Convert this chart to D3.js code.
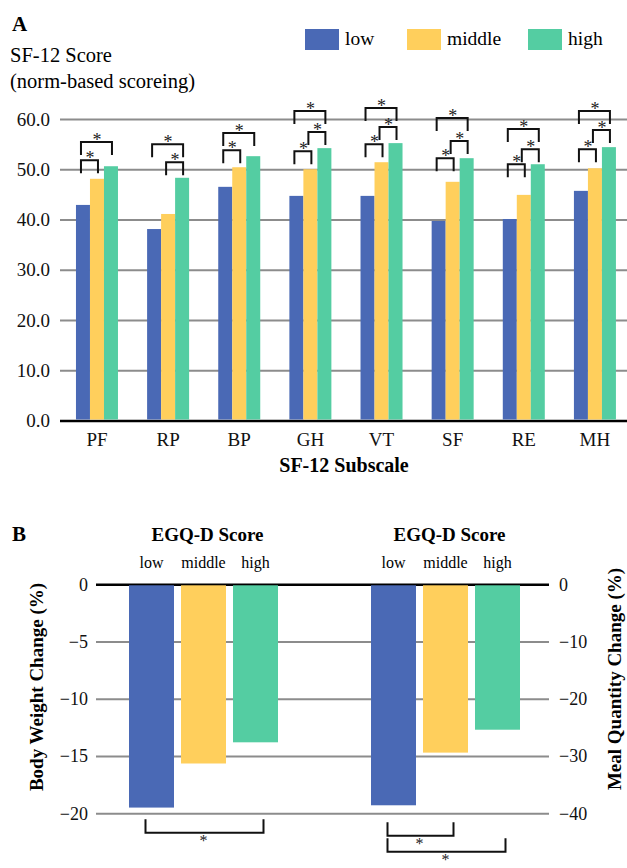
<!DOCTYPE html>
<html>
<head>
<meta charset="utf-8">
<script src="https://cdn.jsdelivr.net/npm/d3@7"></script>
<style>
  body { margin: 0; background: #fff; }
  svg { display: block; font-family: "Liberation Serif", "Times New Roman", serif; }
</style>
</head>
<body>
<div id="container"></div>
<script>
//******************** DATA ********************//
const series = ["low", "middle", "high"];
const colors = ["#4a69b5", "#ffcf5c", "#54cda2"];

// panel A: SF-12 subscales
const subscales = ["PF", "RP", "BP", "GH", "VT", "SF", "RE", "MH"];
const lowScores = [42.9, 38.1, 46.5, 44.7, 44.7, 39.7, 40.1, 45.7];
const middleScores = [48.1, 41.1, 50.4, 50.0, 51.4, 47.5, 44.9, 50.2];
const highScores = [50.6, 48.3, 52.6, 54.2, 55.2, 52.2, 51.0, 54.4];
const scoreTicks = [0, 10, 20, 30, 40, 50, 60];

// significance brackets: [subscale, from, to, bracket height (score units)]
const bracketsA = [
  ["PF", "low", "middle", 51.8], ["PF", "low", "high", 55.4],
  ["RP", "middle", "high", 51.4], ["RP", "low", "high", 55.0],
  ["BP", "low", "middle", 53.8], ["BP", "low", "high", 57.2],
  ["GH", "low", "middle", 53.6], ["GH", "middle", "high", 57.4], ["GH", "low", "high", 61.6],
  ["VT", "low", "middle", 55.0], ["VT", "middle", "high", 58.4], ["VT", "low", "high", 62.2],
  ["SF", "low", "middle", 52.2], ["SF", "middle", "high", 55.6], ["SF", "low", "high", 60.2],
  ["RE", "low", "middle", 51.0], ["RE", "middle", "high", 54.0], ["RE", "low", "high", 58.0],
  ["MH", "low", "middle", 54.0], ["MH", "middle", "high", 57.8], ["MH", "low", "high", 61.6]
];

// panel B: change by EGQ-D score
const outcomes = ["weight", "meal"];
const weightChange = [-19.5, -15.65, -13.8];   // left axis
const mealChange = [-38.6, -29.4, -25.4];      // right axis
const weightTicks = [0, -5, -10, -15, -20];
const mealTicks = [0, -10, -20, -30, -40];

// [outcome, from, to, bracket level (that outcome's axis units)]
const bracketsB = [
  ["weight", "low", "high", -21.7],
  ["meal", "low", "middle", -43.9],
  ["meal", "low", "high", -46.7]
];

//******************** SVG ********************//
const width = 627;
const height = 868;

const svg = d3.select("div#container")
  .append("svg")
  .attr("width", width)
  .attr("height", height);

//******************** PANEL A ********************//
const xA = d3.scaleBand().domain(subscales).range([61.4, 630.5]);
const xSubA = d3.scaleBand().domain(series).range([-21, 21]);
const yA = d3.scaleLinear().domain([0, 60]).range([420.5, 119]);
const centerA = (cat, s) => xA(cat) + xA.bandwidth() / 2 + xSubA(s) + xSubA.bandwidth() / 2;

svg.append("text").attr("x", 12).attr("y", 31)
  .attr("font-size", 21).attr("font-weight", "bold").text("A");
svg.append("text").attr("x", 10).attr("y", 62)
  .attr("font-size", 20.5).text("SF-12 Score");
svg.append("text").attr("x", 10).attr("y", 88)
  .attr("font-size", 20.5).text("(norm-based scoreing)");

//---------- LEGEND ----------//
const legendX = [305, 407, 528];
const legend = svg.append("g").selectAll("g")
  .data(series).join("g")
  .attr("transform", (d, i) => `translate(${legendX[i]},29)`);
legend.append("rect")
  .attr("width", 34).attr("height", 21)
  .attr("fill", (d, i) => colors[i]);
legend.append("text")
  .attr("x", 40).attr("y", 16)
  .attr("font-size", 19.5).text(d => d);

//---------- GRID + AXIS ----------//
const gridA = d3.axisLeft(yA).tickValues(scoreTicks)
  .tickSize(-(627 - 60)).tickFormat(d3.format(".1f")).tickPadding(10);
svg.append("g")
  .attr("transform", "translate(60,0)")
  .call(gridA)
  .call(g => g.select(".domain").remove())
  .call(g => g.selectAll(".tick line")
    .attr("stroke", d => d === 0 ? "#000" : "#8c8c8c")
    .attr("stroke-width", d => d === 0 ? 2.5 : 2))
  .call(g => g.selectAll(".tick text")
    .attr("font-size", 19).attr("font-family", "Liberation Serif").attr("fill", "#111"));

svg.append("g")
  .attr("transform", "translate(0,420.5)")
  .call(d3.axisBottom(xA).tickSize(0).tickPadding(12))
  .call(g => g.select(".domain").remove())
  .call(g => g.selectAll(".tick text")
    .attr("font-size", 19).attr("font-family", "Liberation Serif").attr("fill", "#111"));

svg.append("text").attr("x", 344).attr("y", 472)
  .attr("text-anchor", "middle").attr("font-size", 20).attr("font-weight", "bold")
  .text("SF-12 Subscale");

//---------- BARS ----------//
const scoreRows = subscales.map((c, i) => ({
  cat: c, values: [lowScores[i], middleScores[i], highScores[i]]
}));
svg.append("g").selectAll("g")
  .data(scoreRows).join("g")
  .attr("transform", d => `translate(${xA(d.cat) + xA.bandwidth() / 2},0)`)
  .selectAll("rect")
  .data(d => d.values.map((v, i) => ({ s: series[i], v: v, i: i })))
  .join("rect")
  .attr("x", d => xSubA(d.s))
  .attr("width", xSubA.bandwidth())
  .attr("y", d => yA(d.v))
  .attr("height", d => yA(0) - yA(d.v) - 1)
  .attr("fill", d => colors[d.i]);

//---------- BRACKETS ----------//
const legA = 13;
const brA = svg.append("g").selectAll("g").data(bracketsA).join("g");
brA.append("path")
  .attr("fill", "none").attr("stroke", "#111").attr("stroke-width", 2)
  .attr("d", d => {
    const x1 = centerA(d[0], d[1]) - 2, x2 = centerA(d[0], d[2]) + 1, y = yA(d[3]);
    return `M${x1},${y + legA}V${y}H${x2}V${y + legA}`;
  });
brA.append("text")
  .attr("x", d => (centerA(d[0], d[1]) + centerA(d[0], d[2])) / 2)
  .attr("y", d => yA(d[3]) + 4)
  .attr("text-anchor", "middle").attr("font-size", 18).attr("fill", "#222")
  .text("*");

//******************** PANEL B ********************//
const xB = d3.scaleBand().domain(outcomes).range([82.5, 566.5]);
const xSubB = d3.scaleBand().domain(series).range([-74.5, 74.5]).paddingInner(7 / 52);
const yL = d3.scaleLinear().domain([-20, 0]).range([813.3, 584.3]);
const yR = d3.scaleLinear().domain([-40, 0]).range([813.3, 584.3]);
const yOf = o => o === "weight" ? yL : yR;
const centerB = (o, s) => xB(o) + xB.bandwidth() / 2 + xSubB(s) + xSubB.bandwidth() / 2;

svg.append("text").attr("x", 12).attr("y", 541)
  .attr("font-size", 21).attr("font-weight", "bold").text("B");

//---------- GRID + AXES ----------//
const minus = d => d < 0 ? "\u2212" + Math.abs(d) : d;
svg.append("g")
  .attr("transform", "translate(96,0)")
  .call(d3.axisLeft(yL).tickValues(weightTicks).tickSize(-(549 - 96)).tickPadding(8)
    .tickFormat(minus))
  .call(g => g.select(".domain").remove())
  .call(g => g.selectAll(".tick line")
    .attr("stroke", d => d === 0 ? "#000" : "#8c8c8c")
    .attr("stroke-width", d => d === 0 ? 2.5 : 2))
  .call(g => g.selectAll(".tick text")
    .attr("font-size", 18).attr("font-family", "Liberation Serif").attr("fill", "#111"));

svg.append("g")
  .attr("transform", "translate(549,0)")
  .call(d3.axisRight(yR).tickValues(mealTicks).tickSize(0).tickPadding(10)
    .tickFormat(minus))
  .call(g => g.select(".domain").remove())
  .call(g => g.selectAll(".tick text")
    .attr("font-size", 18).attr("font-family", "Liberation Serif").attr("fill", "#111"));

svg.append("text")
  .attr("transform", "translate(43,687) rotate(-90)")
  .attr("text-anchor", "middle").attr("font-size", 19).attr("font-weight", "bold")
  .text("Body Weight Change (%)");
svg.append("text")
  .attr("transform", "translate(621,679) rotate(-90)")
  .attr("text-anchor", "middle").attr("font-size", 19).attr("font-weight", "bold")
  .text("Meal Quantity Change (%)");

//---------- GROUP HEADERS ----------//
const headers = svg.append("g").selectAll("g").data(outcomes).join("g");
headers.append("text")
  .attr("x", d => xB(d) + xB.bandwidth() / 2 + 4).attr("y", 541)
  .attr("text-anchor", "middle").attr("font-size", 19).attr("font-weight", "bold")
  .text("EGQ-D Score");
headers.selectAll(".lvl")
  .data(d => series.map(s => ({ o: d, s: s })))
  .join("text")
  .attr("class", "lvl")
  .attr("x", d => centerB(d.o, d.s)).attr("y", 568)
  .attr("text-anchor", "middle").attr("font-size", 16)
  .text(d => d.s);

//---------- BARS ----------//
const changeRows = [
  { o: "weight", values: weightChange },
  { o: "meal", values: mealChange }
];
svg.append("g").selectAll("g")
  .data(changeRows).join("g")
  .selectAll("rect")
  .data(d => d.values.map((v, i) => ({ o: d.o, s: series[i], v: v, i: i })))
  .join("rect")
  .attr("x", d => xB(d.o) + xB.bandwidth() / 2 + xSubB(d.s))
  .attr("width", xSubB.bandwidth())
  .attr("y", d => yOf(d.o)(0) + 1)
  .attr("height", d => yOf(d.o)(d.v) - yOf(d.o)(0) - 1)
  .attr("fill", d => colors[d.i]);

//---------- BRACKETS ----------//
const legB = 13.5;
const brB = svg.append("g").selectAll("g").data(bracketsB).join("g");
brB.append("path")
  .attr("fill", "none").attr("stroke", "#111").attr("stroke-width", 2)
  .attr("d", d => {
    const x1 = centerB(d[0], d[1]) - 6, x2 = centerB(d[0], d[2]) + 8, y = yOf(d[0])(d[3]);
    return `M${x1},${y - legB}V${y}H${x2}V${y - legB}`;
  });
brB.append("text")
  .attr("x", d => (centerB(d[0], d[1]) + centerB(d[0], d[2])) / 2)
  .attr("y", d => yOf(d[0])(d[3]) + 13)
  .attr("text-anchor", "middle").attr("font-size", 16).attr("fill", "#222")
  .text("*");
</script>
</body>
</html>
